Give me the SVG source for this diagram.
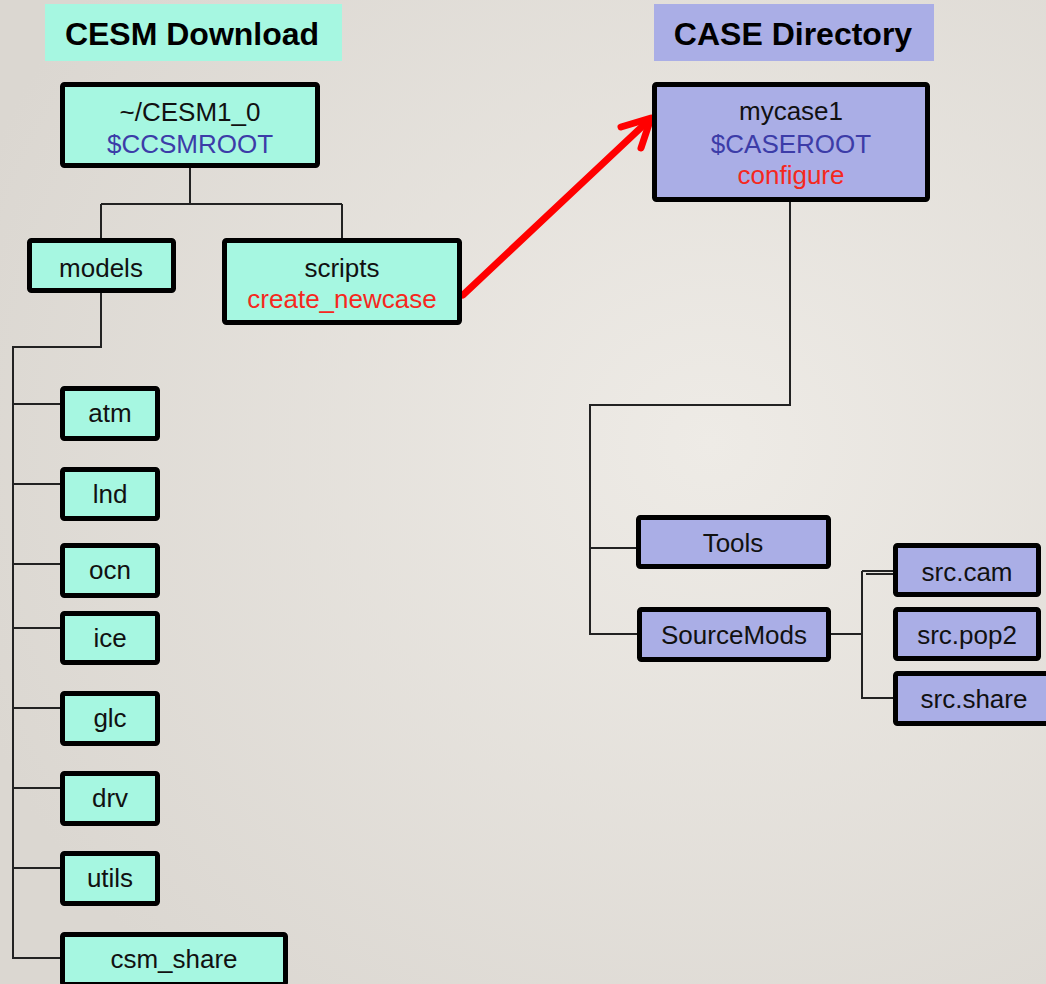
<svg xmlns="http://www.w3.org/2000/svg" width="1046" height="984" viewBox="0 0 1046 984">
<defs>
<radialGradient id="bg" cx="0.68" cy="0.45" r="0.75">
<stop offset="0" stop-color="#eeebe6"/>
<stop offset="1" stop-color="#dbd7d1"/>
</radialGradient>
<style>
.g{fill:#a6f7e1;stroke:#000;stroke-width:5}
.p{fill:#aaaee6;stroke:#000;stroke-width:5}
text{font-family:"Liberation Sans",Arial,sans-serif;font-size:26px;fill:#111;text-anchor:middle}
.h{font-size:32px;font-weight:bold;fill:#000}
.b{fill:#3c3ca8}
.r{fill:#f5281e}
.c{fill:none;stroke:#222;stroke-width:2}
.a{fill:none;stroke:#ff0000;stroke-width:7;stroke-linecap:round;stroke-linejoin:round}
</style>
</defs>
<rect width="1046" height="984" fill="url(#bg)"/>
<g id="hdr-cesm"><rect x="45" y="4" width="297" height="57" fill="#a6f7e1"/><text class="h" x="192" y="45">CESM Download</text></g>
<g id="hdr-case"><rect x="654" y="4" width="280" height="57" fill="#aaaee6"/><text class="h" x="793" y="45">CASE Directory</text></g>
<g id="connectors">
<path class="c" d="M190,168V204M101,204H342M101,204V238M342,204V238"/>
<path class="c" d="M101,293V347H13V958H60M13,404H60M13,484H60M13,564H60M13,628H60M13,708H60M13,788H60M13,868H60"/>
<path class="c" d="M790,202V405H590V634H637M590,548H636"/>
<path class="c" d="M831,634H862M862,571V698H893M862,571H893M866,574H893"/>
<path class="a" d="M463,295L648,121"/>
<path class="a" d="M621,127L651,118L641,148"/>
</g>
<g id="n-root"><rect class="g" x="62.5" y="84.5" width="255" height="81" rx="2"/><text x="190" y="121">~/CESM1_0</text><text class="b" x="190" y="153">$CCSMROOT</text></g>
<g id="n-models"><rect class="g" x="29.5" y="240.5" width="144" height="50" rx="2"/><text x="101" y="277">models</text></g>
<g id="n-scripts"><rect class="g" x="224.5" y="240.5" width="235" height="82" rx="2"/><text x="342" y="277">scripts</text><text class="r" x="342" y="308">create_newcase</text></g>
<g id="n-atm"><rect class="g" x="62.5" y="388.5" width="95" height="50" rx="2"/><text x="110" y="422">atm</text></g>
<g id="n-lnd"><rect class="g" x="62.5" y="469.5" width="95" height="49" rx="2"/><text x="110" y="503">lnd</text></g>
<g id="n-ocn"><rect class="g" x="62.5" y="545.5" width="95" height="50" rx="2"/><text x="110" y="579">ocn</text></g>
<g id="n-ice"><rect class="g" x="62.5" y="613.5" width="95" height="49" rx="2"/><text x="110" y="647">ice</text></g>
<g id="n-glc"><rect class="g" x="62.5" y="693.5" width="95" height="50" rx="2"/><text x="110" y="727">glc</text></g>
<g id="n-drv"><rect class="g" x="62.5" y="773.5" width="95" height="50" rx="2"/><text x="110" y="807">drv</text></g>
<g id="n-utils"><rect class="g" x="62.5" y="853.5" width="95" height="50" rx="2"/><text x="110" y="887">utils</text></g>
<g id="n-csm_share"><rect class="g" x="62.5" y="934.5" width="223" height="50" rx="2"/><text x="174" y="968">csm_share</text></g>
<g id="n-mycase1"><rect class="p" x="654.5" y="84.5" width="273" height="115" rx="2"/><text x="791" y="120">mycase1</text><text class="b" x="791" y="153">$CASEROOT</text><text class="r" x="791" y="184">configure</text></g>
<g id="n-tools"><rect class="p" x="638.5" y="517.5" width="190" height="49" rx="2"/><text x="733" y="552">Tools</text></g>
<g id="n-sourcemods"><rect class="p" x="639.5" y="609.5" width="189" height="50" rx="2"/><text x="734" y="644">SourceMods</text></g>
<g id="n-srccam"><rect class="p" x="895.5" y="545.5" width="143" height="49" rx="2"/><text x="967" y="581">src.cam</text></g>
<g id="n-srcpop2"><rect class="p" x="895.5" y="609.5" width="143" height="49" rx="2"/><text x="967" y="644">src.pop2</text></g>
<g id="n-srcshare"><rect class="p" x="895.5" y="673.5" width="160" height="50" rx="2"/><text x="974" y="708">src.share</text></g>
</svg>
